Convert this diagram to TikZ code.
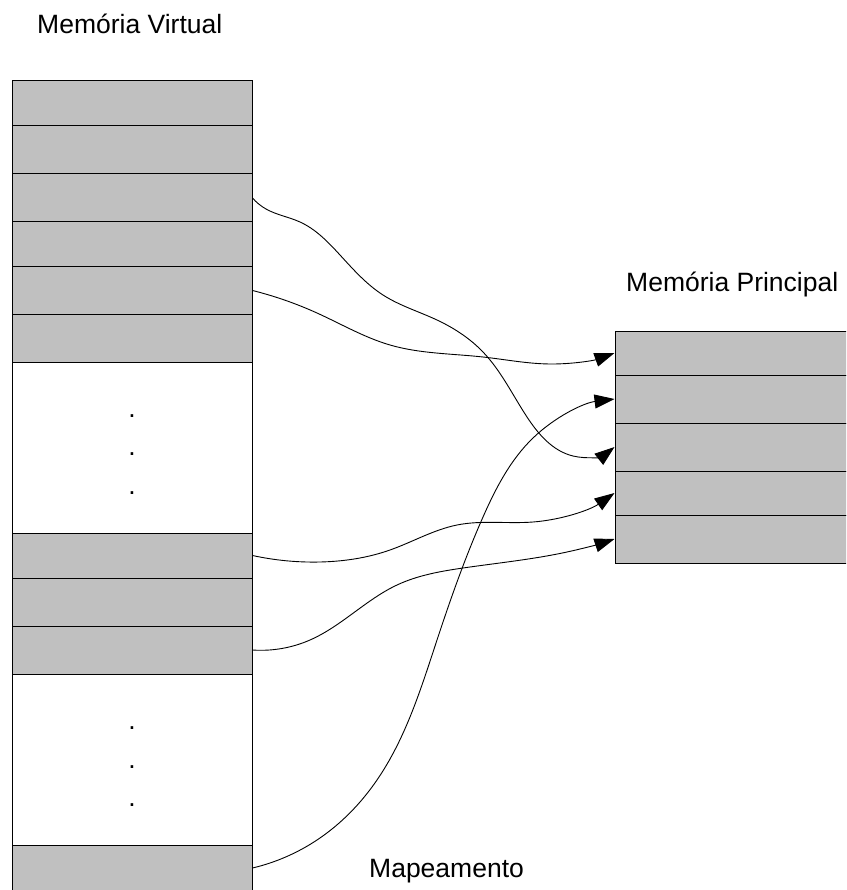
\documentclass[tikz,border=0pt]{standalone}
\usepackage{fontspec}
\setmainfont{Liberation Sans}
\usetikzlibrary{arrows.meta,hobby}
\definecolor{memgray}{RGB}{192,192,192}
\tikzset{
  cell/.style={draw=black, fill=memgray, inner sep=0pt, line width=1pt},
  vcell/.style={cell, minimum width=240pt},
  emptycell/.style={vcell, fill=white},
  pcell/.style={cell, minimum width=265pt},
  label/.style={inner sep=0pt, anchor=base west, font=\fontsize{26.5}{30}\selectfont},
  dotmark/.style={inner sep=0pt, anchor=base, font=\fontsize{26.5}{30}\selectfont},
  mapping/.style={line width=0.9pt, use Hobby shortcut, -{Triangle[length=20pt,width=14pt]}},
}
\begin{document}
\begin{tikzpicture}[x=1pt, y=-1pt]
\useasboundingbox (0,0) rectangle (846,890);
\clip (0,0) rectangle (846,890);

% virtual memory pages
\node[vcell, minimum height=45pt] (v1) at (132,103.5) {};
\node[vcell, minimum height=48pt] (v2) at (132,150) {};
\node[vcell, minimum height=48pt] (v3) at (132,198) {};
\node[vcell, minimum height=45pt] (v4) at (132,244.5) {};
\node[vcell, minimum height=47pt] (v5) at (132,290.5) {};
\node[vcell, minimum height=48pt] (v6) at (132,338) {};
\node[emptycell, minimum height=171pt] (w1) at (132,447.5) {};
\node[vcell, minimum height=45pt] (v7) at (132,555.5) {};
\node[vcell, minimum height=48pt] (v8) at (132,602) {};
\node[vcell, minimum height=48pt] (v9) at (132,650) {};
\node[emptycell, minimum height=171pt] (w2) at (132,759.5) {};
\node[vcell, minimum height=46pt] (v10) at (132,868) {};

% ellipsis dots
\node[dotmark] (d1) at (132,417.3) {.};
\node[dotmark] (d2) at (132,455.3) {.};
\node[dotmark] (d3) at (132,494.3) {.};
\node[dotmark] (d4) at (132,729.3) {.};
\node[dotmark] (d5) at (132,768.3) {.};
\node[dotmark] (d6) at (132,806.3) {.};

% main memory frames
\node[pcell, minimum height=44pt] (p1) at (747.5,353) {};
\node[pcell, minimum height=48pt] (p2) at (747.5,399) {};
\node[pcell, minimum height=48pt] (p3) at (747.5,447) {};
\node[pcell, minimum height=44pt] (p4) at (747.5,493) {};
\node[pcell, minimum height=48pt] (p5) at (747.5,539) {};

% labels
\node[label] (tv) at (37,34) {Memória Virtual};
\node[label] (tp) at (626,291) {Memória Principal};
\node[label] (tm) at (369,877) {Mapeamento};

% page-to-frame mapping
\draw[mapping] (v3.east) .. (266,209) .. (300,222) .. (340,255) .. (383,295) .. (437,320) .. (483,352) .. (527,417) .. (573,456) .. (p3.west);
\draw[mapping] (v5.east) .. (317,313) .. (390,345) .. (483,357) .. (550,364) .. (p1.west);
\draw[mapping] (v7.east) .. (320,562) .. (390,550) .. (457,525) .. (533,522) .. (p4.west);
\draw[mapping] (v9.east) .. (310,640) .. (397,585) .. (463,568) .. (567,552) .. (p5.west);
\draw[mapping] (v10.east) .. (317,840) .. (377,780) .. (437,640) .. (483,517) .. (533,438) .. (p2.west);
\end{tikzpicture}
\end{document}
